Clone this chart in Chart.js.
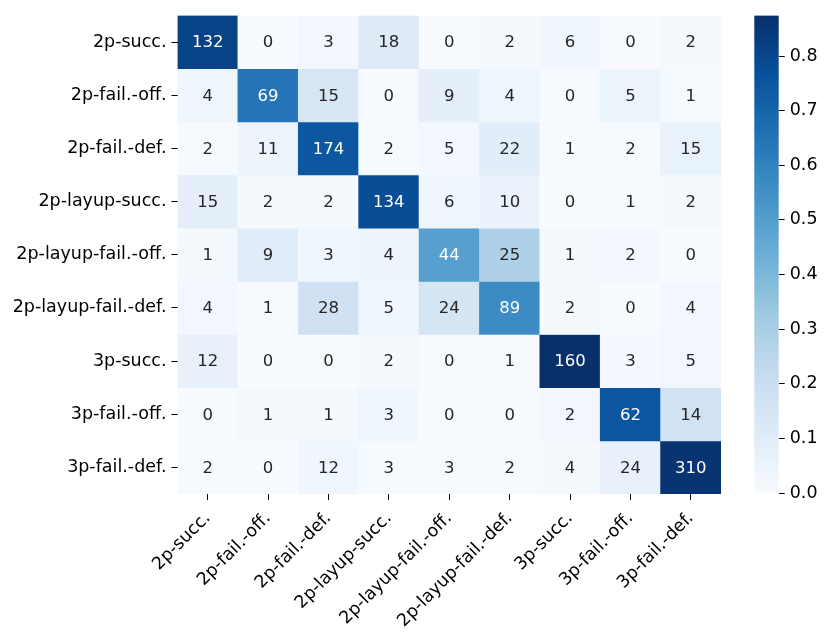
<!DOCTYPE html>
<html>
<head>
<meta charset="utf-8">
<script src="https://cdn.jsdelivr.net/npm/chart.js@4/dist/chart.umd.min.js"></script>
<style>
  body { margin: 0; background: #fff; }
  #wrap { position: relative; width: 831px; height: 639px; }
  #heat { position: absolute; left: 0; top: 0; }
  #cbar { position: absolute; left: 740px; top: 0; }
</style>
</head>
<body>
<div id="wrap">
  <canvas id="heat" width="831" height="639"></canvas>
  <canvas id="cbar" width="91" height="639"></canvas>
</div>
<script>
const colLabels = ["2p-succ.", "2p-fail.-off.", "2p-fail.-def.", "2p-layup-succ.", "2p-layup-fail.-off.",
  "2p-layup-fail.-def.", "3p-succ.", "3p-fail.-off.", "3p-fail.-def."];
const rowLabels = colLabels.slice();

const counts = [
  [132, 0, 3, 18, 0, 2, 6, 0, 2],
  [4, 69, 15, 0, 9, 4, 0, 5, 1],
  [2, 11, 174, 2, 5, 22, 1, 2, 15],
  [15, 2, 2, 134, 6, 10, 0, 1, 2],
  [1, 9, 3, 4, 44, 25, 1, 2, 0],
  [4, 1, 28, 5, 24, 89, 2, 0, 4],
  [12, 0, 0, 2, 0, 1, 160, 3, 5],
  [0, 1, 1, 3, 0, 0, 2, 62, 14],
  [2, 0, 12, 3, 3, 2, 4, 24, 310]
];

const cbTicks = [0, 0.1, 0.2, 0.3, 0.4, 0.5, 0.6, 0.7, 0.8];

// matplotlib "Blues"
const blues = [
  [247, 251, 255], [222, 235, 247], [198, 219, 239], [158, 202, 225], [107, 174, 214],
  [66, 146, 198], [33, 113, 181], [8, 81, 156], [8, 48, 107]
];

function bluesRgb(t) {
  t = Math.max(0, Math.min(1, t));
  const p = t * (blues.length - 1);
  const i = Math.min(Math.floor(p), blues.length - 2);
  const f = p - i;
  return blues[i].map((c, k) => c + (blues[i + 1][k] - c) * f);
}
const rgbStr = (c) => `rgb(${c.map(Math.round).join(",")})`;

function luminance(c) {
  const lin = c.map((v) => {
    v /= 255;
    return v <= 0.03928 ? v / 12.92 : Math.pow((v + 0.055) / 1.055, 2.4);
  });
  return 0.2126 * lin[0] + 0.7152 * lin[1] + 0.0722 * lin[2];
}

const rowSums = counts.map((row) => row.reduce((a, b) => a + b, 0));
const frac = counts.map((row, r) => row.map((v) => v / rowSums[r]));
const vmax = Math.max(...frac.flat());

const FONT = "DejaVu Sans";
Chart.defaults.font.family = FONT;
Chart.defaults.font.size = 17.5;
Chart.defaults.color = "#000";

const cellText = {
  id: "cellText",
  afterDatasetsDraw(chart) {
    const { ctx, scales } = chart;
    ctx.save();
    ctx.font = `16.5px "${FONT}"`;
    ctx.textAlign = "center";
    ctx.textBaseline = "middle";
    counts.forEach((row, r) => {
      row.forEach((v, c) => {
        const col = bluesRgb(frac[r][c] / vmax);
        ctx.fillStyle = luminance(col) > 0.408 ? "#262626" : "#ffffff";
        ctx.fillText(String(v), scales.x.getPixelForValue(c), scales.y.getPixelForValue(r + 0.5) + 1);
      });
    });
    ctx.restore();
  }
};

new Chart(document.getElementById("heat"), {
  type: "bar",
  data: {
    labels: colLabels,
    datasets: counts.map((row, r) => ({
      data: row.map(() => [r, r + 1]),
      backgroundColor: row.map((v, c) => rgbStr(bluesRgb(frac[r][c] / vmax))),
      grouped: false,
      barPercentage: 1,
      categoryPercentage: 1,
      borderWidth: 0
    }))
  },
  options: {
    responsive: false,
    animation: false,
    layout: { padding: { top: 12, right: 110, left: 0, bottom: 0 } },
    plugins: { legend: { display: false }, tooltip: { enabled: false } },
    scales: {
      x: {
        grid: { display: true, drawOnChartArea: false, offset: false, tickLength: 6, color: "#000" },
        border: { display: false },
        ticks: { minRotation: 45, maxRotation: 45, padding: 8, color: "#000" },
        afterFit: (axis) => { axis.height = 145; }
      },
      y: {
        min: 0,
        max: rowLabels.length,
        reverse: true,
        grid: { display: true, drawOnChartArea: false, tickLength: 6, color: "#000" },
        border: { display: false },
        afterBuildTicks: (axis) => { axis.ticks = rowLabels.map((_, i) => ({ value: i + 0.5 })); },
        ticks: { padding: 5, color: "#000", callback: (v) => rowLabels[Math.floor(v)] },
        afterFit: (axis) => { axis.width = 177.5; }
      }
    }
  },
  plugins: [cellText]
});

new Chart(document.getElementById("cbar"), {
  type: "bar",
  data: {
    labels: [""],
    datasets: [{
      data: [[0, vmax]],
      barPercentage: 1,
      categoryPercentage: 1,
      borderWidth: 0,
      backgroundColor: (ctx) => {
        const area = ctx.chart.chartArea;
        if (!area) return "#fff";
        const g = ctx.chart.ctx.createLinearGradient(0, area.bottom, 0, area.top);
        blues.forEach((c, i) => g.addColorStop(i / (blues.length - 1), rgbStr(c)));
        return g;
      }
    }]
  },
  options: {
    responsive: false,
    animation: false,
    layout: { padding: { top: 12, left: 14.3, bottom: 146, right: 0 } },
    plugins: { legend: { display: false }, tooltip: { enabled: false } },
    scales: {
      x: { display: false },
      y: {
        position: "right",
        min: 0,
        max: vmax,
        grid: { display: true, drawOnChartArea: false, tickLength: 6, color: "#000" },
        border: { display: false },
        afterBuildTicks: (axis) => { axis.ticks = cbTicks.map((v) => ({ value: v })); },
        ticks: { padding: 5, color: "#000", callback: (v) => v.toFixed(1) },
        afterFit: (axis) => { axis.width = 52.3; }
      }
    }
  }
});
</script>
</body>
</html>
